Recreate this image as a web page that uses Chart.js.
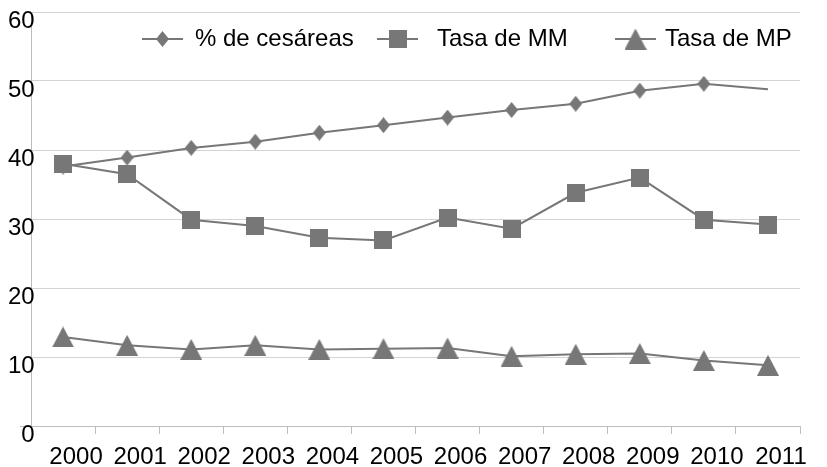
<!DOCTYPE html>
<html>
<head>
<meta charset="utf-8">
<script src="https://cdn.jsdelivr.net/npm/chart.js@4.4.0/dist/chart.umd.min.js"></script>
<style>
html, body { margin: 0; padding: 0; background: #fff; }
#wrap { width: 827px; height: 467px; }
</style>
</head>
<body>
<div id="wrap"><canvas id="myChart"></canvas></div>
<script>
let years = ['2000', '2001', '2002', '2003', '2004', '2005', '2006', '2007', '2008', '2009', '2010', '2011'];
let cesareas = [37.6, 38.9, 40.3, 41.2, 42.5, 43.6, 44.7, 45.8, 46.7, 48.6, 49.6, 48.8];
let tasaMM = [38.0, 36.5, 29.9, 29.0, 27.3, 26.9, 30.2, 28.6, 33.8, 36.0, 29.9, 29.2];
let tasaMP = [12.9, 11.7, 11.1, 11.7, 11.1, 11.2, 11.3, 10.1, 10.4, 10.5, 9.5, 8.8];
let seriesNames = ['% de cesáreas', 'Tasa de MM', 'Tasa de MP'];
let yMin = 0, yMax = 60, yStep = 10;

const gray = '#777777';
Chart.defaults.font.family = "'Liberation Sans', Arial, sans-serif";
Chart.defaults.font.size = 24;
Chart.defaults.color = '#000';

// marker shapes as small canvases so legend and points look the same
function makeMarker(kind) {
    let c = document.createElement('canvas');
    let w = 18, h = 18;
    if (kind == 'diamond') { w = 13; h = 16; }
    if (kind == 'triangle') { w = 22; h = 21; }
    c.width = w; c.height = h;
    let g = c.getContext('2d');
    g.fillStyle = gray;
    g.beginPath();
    if (kind == 'diamond') {
        g.moveTo(w / 2, 0); g.lineTo(w, h / 2); g.lineTo(w / 2, h); g.lineTo(0, h / 2);
    } else if (kind == 'triangle') {
        g.moveTo(w / 2, 0); g.lineTo(w, h); g.lineTo(0, h);
    } else {
        g.rect(0, 0, w, h);
    }
    g.closePath();
    g.fill();
    return c;
}
const markers = [makeMarker('diamond'), makeMarker('square'), makeMarker('triangle')];

// legend drawn over the plot, like the original
const legendX = [142, 377, 615];
const legendTextX = [195, 437, 665];
const overlayLegend = {
    id: 'overlayLegend',
    afterDraw(chart) {
        let ctx = chart.ctx;
        let y = 39;
        ctx.save();
        chart.data.datasets.forEach((ds, i) => {
            ctx.strokeStyle = ds.borderColor;
            ctx.lineWidth = 2;
            ctx.beginPath();
            ctx.moveTo(legendX[i], y);
            ctx.lineTo(legendX[i] + 41, y);
            ctx.stroke();
            let m = markers[i];
            ctx.drawImage(m, legendX[i] + 20.5 - m.width / 2, y - m.height / 2);
            ctx.fillStyle = '#000';
            ctx.font = "24px 'Liberation Sans', Arial, sans-serif";
            ctx.textBaseline = 'middle';
            ctx.fillText(ds.label, legendTextX[i], y);
        });
        ctx.restore();
    }
};

function lineSet(label, data, marker, noLast) {
    return {
        label: label,
        data: data,
        borderColor: gray,
        backgroundColor: gray,
        borderWidth: 2,
        pointStyle: marker,
        pointRadius: data.map((v, i) => (noLast && i == data.length - 1) ? 0 : 10),
        pointHoverRadius: 10,
        tension: 0
    };
}

let myChart = document.getElementById('myChart').getContext('2d');
let chart = new Chart(myChart, {
    type: 'line',
    data: {
        labels: years,
        datasets: [
            lineSet(seriesNames[0], cesareas, markers[0], true),
            lineSet(seriesNames[1], tasaMM, markers[1], false),
            lineSet(seriesNames[2], tasaMP, markers[2], false)
        ]
    },
    options: {
        responsive: true,
        maintainAspectRatio: false,
        animation: false,
        layout: {
            padding: { left: 10, right: 27, top: 0, bottom: 0 }
        },
        plugins: {
            legend: { display: false },
            tooltip: { enabled: false }
        },
        scales: {
            x: {
                offset: true,
                afterFit: s => { s.height = 41; },
                grid: {
                    offset: true,
                    drawOnChartArea: false,
                    drawTicks: true,
                    tickLength: 8,
                    color: ctx => ctx.index == 0 ? 'rgba(0,0,0,0)' : '#bdbdbd'
                },
                border: { display: true, color: '#bdbdbd' },
                ticks: {
                    maxRotation: 0,
                    autoSkip: false,
                    labelOffset: 13,
                    padding: 9,
                    font: { size: 24 }
                }
            },
            y: {
                min: yMin,
                max: yMax,
                afterFit: s => { s.width = 21; },
                grid: {
                    color: '#d3d3d3',
                    tickLength: 11,
                    tickColor: ctx => ctx.tick && ctx.tick.value == 0 ? '#bdbdbd' : 'rgba(0,0,0,0)'
                },
                border: { display: true, color: '#bdbdbd' },
                ticks: {
                    stepSize: yStep,
                    mirror: true,
                    crossAlign: 'far',
                    labelOffset: 9,
                    padding: -23,
                    font: { size: 24 }
                }
            }
        }
    },
    plugins: [overlayLegend]
});
</script>
</body>
</html>
